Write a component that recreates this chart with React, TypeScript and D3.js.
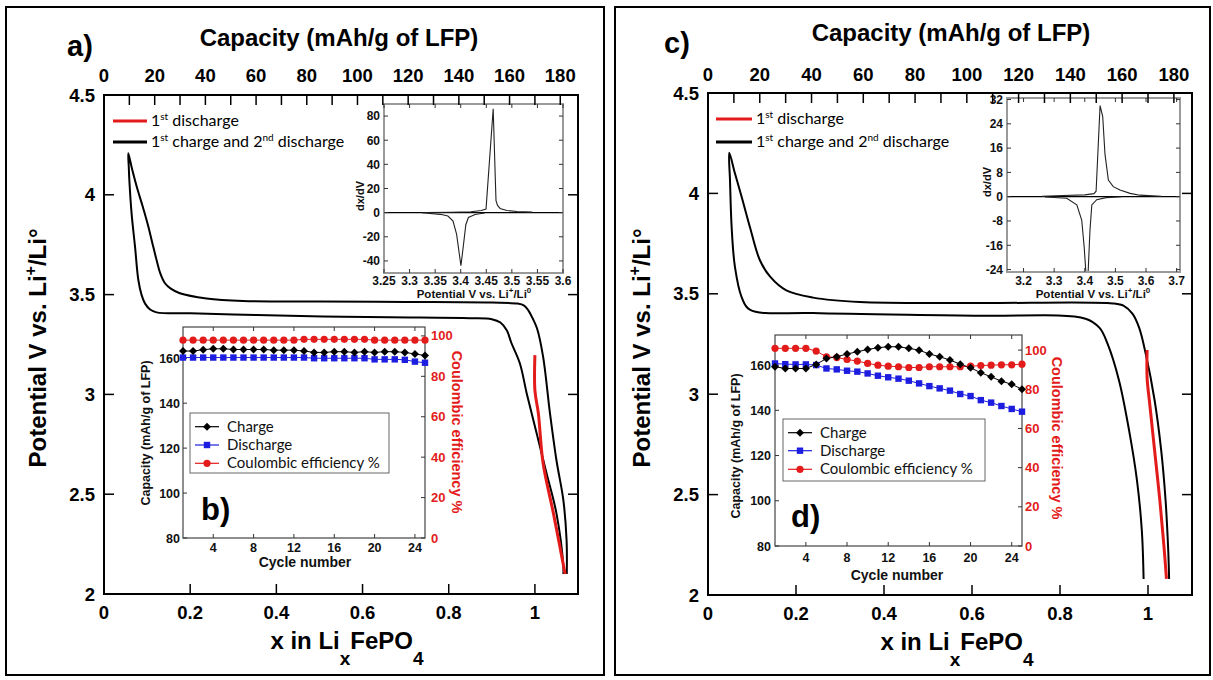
import React from 'react';
import * as d3 from 'd3';

type Pt = [number, number];

const ARIAL = "'Liberation Sans', Arial, Helvetica, sans-serif";
const CAL = "Lato, 'Open Sans', sans-serif";
const RED = '#e31b1b';
const BLUE = '#1d1de0';

// ---------------- main voltage profiles (x in LixFePO4, V) ----------------
const aBlackCurve: Pt[] = [
  [1.074, 2.1], [1.0735, 2.27], [1.066, 2.47], [1.05, 2.67], [1.035, 2.905], [1.019, 3.189],
  [1.005, 3.33], [0.995, 3.38], [0.985, 3.42], [0.975, 3.445], [0.96, 3.455], [0.9, 3.46],
  [0.7, 3.463], [0.5, 3.465], [0.323, 3.468], [0.238, 3.481], [0.176, 3.507], [0.155, 3.53], [0.1415, 3.557],
  [0.13, 3.61], [0.122, 3.673], [0.112, 3.76], [0.103, 3.84], [0.09, 3.94], [0.076, 4.04], [0.065, 4.13], [0.0564, 4.208],
  [0.0575, 4.14], [0.0588, 4.074], [0.064, 3.907], [0.072, 3.74], [0.0797, 3.573], [0.087, 3.5], [0.095, 3.456],
  [0.107, 3.425], [0.122, 3.411],
  [0.2, 3.406], [0.354, 3.398], [0.508, 3.39], [0.664, 3.386], [0.85, 3.382], [0.9, 3.377],
  [0.92, 3.36], [0.935, 3.32], [0.945, 3.26], [0.965, 3.156], [0.981, 3.005], [1.004, 2.805],
  [1.027, 2.605], [1.05, 2.404], [1.066, 2.137], [1.066, 2.1],
];
const aRedCurve: Pt[] = [
  [1.0, 3.197], [1.0, 3.02], [1.008, 2.905], [1.019, 2.655], [1.043, 2.404], [1.058, 2.237], [1.07, 2.1],
];
const cBlackCurve: Pt[] = [
  [1.048, 2.08], [1.046, 2.22], [1.04, 2.47], [1.03, 2.72], [1.015, 2.97], [0.995, 3.2], [0.98, 3.33],
  [0.965, 3.4], [0.945, 3.44], [0.92, 3.452], [0.617, 3.454], [0.345, 3.459], [0.239, 3.481],
  [0.178, 3.517], [0.1417, 3.584], [0.118, 3.667], [0.0952, 3.833], [0.0764, 3.983], [0.0612, 4.1],
  [0.0483, 4.202],
  [0.05, 4.066], [0.0537, 3.833], [0.0612, 3.634], [0.0764, 3.484], [0.095, 3.421], [0.239, 3.404],
  [0.617, 3.391], [0.858, 3.376], [0.89, 3.33], [0.908, 3.252], [0.934, 3.07], [0.957, 2.82],
  [0.975, 2.57], [0.986, 2.32], [0.99, 2.08],
];
const cRedCurve: Pt[] = [
  [0.998, 3.22], [0.998, 3.08], [1.004, 2.95], [1.015, 2.72], [1.027, 2.47], [1.036, 2.25], [1.042, 2.08],
];

const mainXTicks = [0, 0.2, 0.4, 0.6, 0.8, 1];
const mainXLabels = ['0', '0.2', '0.4', '0.6', '0.8', '1'];
const mainYTicks = [2, 2.5, 3, 3.5, 4, 4.5];
const mainYLabels = ['2', '2.5', '3', '3.5', '4', '4.5'];
const capacityTicks = [0, 10, 20, 30, 40, 50, 60, 70, 80, 90, 100, 110, 120, 130, 140, 150, 160, 170, 180];
const capacityLabels = [0, 20, 40, 60, 80, 100, 120, 140, 160, 180];

// ---------------- dx/dV insets ----------------
const aDxCharge: Pt[] = [
  [3.33, 0.1], [3.38, 0.3], [3.42, 0.8], [3.44, 1.8], [3.4495, 3], [3.4635, 86], [3.4675, 30],
  [3.469, 10], [3.472, 6], [3.477, 3.5], [3.49, 1.8], [3.51, 1], [3.54, 0.4],
];
const aDxDischarge: Pt[] = [
  [3.3236, -0.1], [3.36, -1.4], [3.375, -2.8], [3.385, -7], [3.392, -18], [3.4004, -44], [3.405, -28],
  [3.41, -10], [3.415, -4], [3.428, -1.5], [3.447, -0.3],
];
const cDxCharge: Pt[] = [
  [3.26, 0.1], [3.33, 0.4], [3.4, 0.6], [3.43, 1], [3.437, 1.8], [3.45, 30], [3.4586, 26.4],
  [3.466, 14], [3.477, 5.5], [3.493, 3.3], [3.515, 2.2], [3.548, 1.1], [3.58, 0.5], [3.65, 0.1],
];
const cDxDischarge: Pt[] = [
  [3.27, -0.1], [3.341, -0.5], [3.374, -2.7], [3.39, -7.7], [3.398, -16.5], [3.405, -27], [3.41, -27],
  [3.417, -11], [3.423, -2.7], [3.439, -1], [3.47, -0.3], [3.52, 0],
];
const aDxXTicks = [3.25, 3.3, 3.35, 3.4, 3.45, 3.5, 3.55, 3.6];
const aDxXLabels = ['3.25', '3.3', '3.35', '3.4', '3.45', '3.5', '3.55', '3.6'];
const aDxYTicks = [-40, -20, 0, 20, 40, 60, 80];
const cDxXTicks = [3.2, 3.3, 3.4, 3.5, 3.6, 3.7];
const cDxXLabels = ['3.2', '3.3', '3.4', '3.5', '3.6', '3.7'];
const cDxYTicks = [-24, -16, -8, 0, 8, 16, 24, 32];

// ---------------- cycling insets ----------------
const cycles = [1, 2, 3, 4, 5, 6, 7, 8, 9, 10, 11, 12, 13, 14, 15, 16, 17, 18, 19, 20, 21, 22, 23, 24, 25];
const bCharge = [163.2, 163.2, 163.8, 164.2, 164.2, 163.9, 163.9, 163.9, 163.9, 163.6, 163.6, 163.6, 163.2,
  162.6, 162.6, 162.9, 162.9, 162.6, 162.9, 162.6, 162.9, 162.9, 162.6, 161.9, 161.2];
const bDischarge = [160.3, 160.3, 160.3, 160.3, 160.3, 160.3, 160.3, 160.3, 160.3, 160.3, 160.3, 160.3, 160.3,
  160.0, 160.0, 160.0, 160.0, 160.0, 160.0, 159.5, 159.5, 159.5, 159.3, 158.5, 158.0];
const bCE = [97.9, 97.9, 97.9, 97.9, 97.9, 97.9, 97.9, 97.9, 97.9, 97.9, 97.9, 97.9, 98.3, 98.3, 98.3, 98.3,
  98.3, 98.3, 98.3, 97.9, 97.9, 97.9, 97.9, 97.9, 97.9];
const dCharge = [159.3, 158.5, 158.5, 158.5, 160.3, 162.9, 163.7, 164.9, 165.9, 166.9, 167.7, 168.1, 168.1,
  167.4, 166.6, 164.9, 163.7, 162.2, 160.4, 158.8, 156.6, 154.8, 152.9, 151.5, 149.3];
const dDischarge = [160.7, 160.4, 160.3, 160.3, 160.0, 158.5, 158.1, 157.5, 157.1, 156.3, 155.3, 154.6, 154.0,
  153.1, 151.9, 150.7, 149.7, 148.7, 147.2, 146.3, 144.5, 143.4, 141.9, 140.6, 139.4];
const dCE = [100.9, 100.9, 100.9, 100.9, 99.5, 96.6, 96.2, 95.2, 94.4, 93.2, 92.3, 91.8, 91.5, 91.1, 91.1,
  91.5, 91.5, 91.5, 91.5, 91.8, 92.1, 92.3, 92.5, 92.5, 92.8];
const cycleTicks = [4, 8, 12, 16, 20, 24];
const capAxisTicks = [80, 100, 120, 140, 160];
const ceAxisTicks = [0, 20, 40, 60, 80, 100];

// ---------------- layout ----------------
const panelA = {
  fx: 6, fy: 7, fw: 598, fh: 668, x0: 104, x1: 578, yT: 95, yB: 594,
  tag: 'a)', tagX: 67, tagY: 56, titleX: 339, titleY: 46, topLabY: 82, botLabY: 619,
  yLabX: 46, yLabY: 348, xLabX: 347, xLabY: 649, legX0: 113, legX1: 147, legY1: 121, legY2: 142,
};
const panelC = {
  fx: 615, fy: 7, fw: 595, fh: 668, x0: 708, x1: 1192, yT: 93, yB: 595,
  tag: 'c)', tagX: 664, tagY: 53, titleX: 951, titleY: 41, topLabY: 81, botLabY: 620,
  yLabX: 650, yLabY: 348, xLabX: 957, xLabY: 650, legX0: 716, legX1: 752, legY1: 119, legY2: 142,
};
const dxA = { l: 384, r: 563, t: 104, b: 273, xd: [3.25, 3.6], yd: [-50, 90], labR: 380, xLabY: 285,
  titleX: 474, titleY: 298, dxX: 364, dxY: 196 };
const dxC = { l: 1007, r: 1180, t: 98, b: 272, xd: [3.146, 3.711], yd: [-24.8, 32.5], labR: 1003, xLabY: 285,
  titleX: 1093, titleY: 298, dxX: 991, dxY: 182 };
const cyB = { l: 183, r: 425, t: 327, b: 538, yLTop: 173.9, yRTop: 104.4, leftLabR: 180, rightLabL: 431,
  xLabY: 552, cnY: 567, cnX: 305, capLabX: 150, capLabY: 433, ceLabX: 452, ceLabY: 432,
  lg: { x: 190, y: 413, w: 199, h: 60, rows: [426.7, 445, 463.3], lx0: 195, lx1: 219, tx: 227 },
  tag: 'b)', tagX: 201, tagY: 520 };
const cyD = { l: 775, r: 1022, t: 335, b: 546, yLTop: 173.3, yRTop: 107.7, leftLabR: 771, rightLabL: 1025,
  xLabY: 562, cnY: 580, cnX: 897, capLabX: 740, capLabY: 446, ceLabX: 1052, ceLabY: 438,
  lg: { x: 783, y: 419, w: 202, h: 62, rows: [432.7, 450.7, 469.3], lx0: 788, lx1: 812, tx: 820 },
  tag: 'd)', tagX: 791, tagY: 527 };

function MainPanel({ g, black, red, children }: any) {
  const x = d3.scaleLinear().domain([0, 1.1]).range([g.x0, g.x1]);
  const cap = d3.scaleLinear().domain([0, 1.1 * 170]).range([g.x0, g.x1]);
  const y = d3.scaleLinear().domain([2, 4.5]).range([g.yB, g.yT]);
  const line = d3.line<Pt>().x(d => x(d[0])).y(d => y(d[1])).curve(d3.curveCatmullRom.alpha(0.5));
  const TL = 10;
  const tf = { fontFamily: ARIAL, fontWeight: 'bold' as const, fontSize: 18.5, fill: '#000' };
  return (
    <g>
      <rect x={g.fx} y={g.fy} width={g.fw} height={g.fh} fill="#fff" stroke="#000" strokeWidth={2} />
      <text x={g.tagX} y={g.tagY} fontFamily={ARIAL} fontWeight="bold" fontSize={29}>{g.tag}</text>
      <text x={g.titleX} y={g.titleY} textAnchor="middle" fontFamily={ARIAL} fontWeight="bold" fontSize={24}>
        Capacity (mAh/g of LFP)
      </text>
      <path d={line(black) || ''} fill="none" stroke="#000" strokeWidth={2} strokeLinejoin="round" />
      <path d={line(red) || ''} fill="none" stroke={RED} strokeWidth={3} strokeLinejoin="round" />
      {children}
      <rect x={g.x0} y={g.yT} width={g.x1 - g.x0} height={g.yB - g.yT} fill="none" stroke="#000" strokeWidth={2} />
      {capacityTicks.map(t => (
        <line key={'ct' + t} x1={cap(t)} x2={cap(t)} y1={g.yT} y2={g.yT + TL} stroke="#000" strokeWidth={1.5} />
      ))}
      {capacityLabels.map(t => (
        <text key={'cl' + t} x={cap(t)} y={g.topLabY} textAnchor="middle" {...tf}>{t}</text>
      ))}
      {mainXTicks.map((t, i) => (
        <g key={'xt' + t}>
          <line x1={x(t)} x2={x(t)} y1={g.yB} y2={g.yB - TL} stroke="#000" strokeWidth={1.5} />
          <text x={x(t)} y={g.botLabY} textAnchor="middle" {...tf}>{mainXLabels[i]}</text>
        </g>
      ))}
      {mainYTicks.map((t, i) => (
        <g key={'yt' + t}>
          <line x1={g.x0} x2={g.x0 + TL} y1={y(t)} y2={y(t)} stroke="#000" strokeWidth={1.5} />
          <line x1={g.x1} x2={g.x1 - TL} y1={y(t)} y2={y(t)} stroke="#000" strokeWidth={1.5} />
          <text x={g.x0 - 9} y={y(t) + 6.5} textAnchor="end" {...tf}>{mainYLabels[i]}</text>
        </g>
      ))}
      {/* legend */}
      <line x1={g.legX0} x2={g.legX1} y1={g.legY1} y2={g.legY1} stroke={RED} strokeWidth={3} />
      <text x={g.legX1 + 4} y={g.legY1 + 5} fontFamily={CAL} fontSize={16} fill="#000">
        1<tspan dy={-6} fontSize={10}>st</tspan><tspan dy={6}> discharge</tspan>
      </text>
      <line x1={g.legX0} x2={g.legX1} y1={g.legY2} y2={g.legY2} stroke="#000" strokeWidth={3} />
      <text x={g.legX1 + 4} y={g.legY2 + 5} fontFamily={CAL} fontSize={16} fill="#000">
        1<tspan dy={-6} fontSize={10}>st</tspan><tspan dy={6}> charge and 2</tspan>
        <tspan dy={-6} fontSize={10}>nd</tspan><tspan dy={6}> discharge</tspan>
      </text>
      {/* axis titles */}
      <text transform={`translate(${g.yLabX},${g.yLabY}) rotate(-90)`} textAnchor="middle"
        fontFamily={ARIAL} fontWeight="bold" fontSize={24}>
        Potential V vs. Li<tspan dy={-10} fontSize={16}>+</tspan><tspan dy={10}>/Li°</tspan>
      </text>
      <text x={g.xLabX} y={g.xLabY} textAnchor="middle" fontFamily={ARIAL} fontWeight="bold" fontSize={24}>
        x in Li<tspan dy={16} fontSize={19}>x</tspan><tspan dy={-16}>FePO</tspan>
        <tspan dy={16} fontSize={19}>4</tspan>
      </text>
    </g>
  );
}

function DxInset({ g, charge, discharge, xTicks, xLabels, yTicks, id }: any) {
  const x = d3.scaleLinear().domain(g.xd).range([g.l, g.r]);
  const y = d3.scaleLinear().domain(g.yd).range([g.b, g.t]);
  const line = d3.line<Pt>().x(d => x(d[0])).y(d => y(d[1]));
  const tf = { fontFamily: ARIAL, fontWeight: 'bold' as const, fontSize: 12, fill: '#111' };
  return (
    <g>
      <defs>
        <clipPath id={id}><rect x={g.l} y={g.t} width={g.r - g.l} height={g.b - g.t} /></clipPath>
      </defs>
      <rect x={g.l} y={g.t} width={g.r - g.l} height={g.b - g.t} fill="#fff" />
      <g clipPath={`url(#${id})`}>
        <line x1={g.l} x2={g.r} y1={y(0)} y2={y(0)} stroke="#000" strokeWidth={1.2} />
        <path d={line(charge) || ''} fill="none" stroke="#222" strokeWidth={1.1} />
        <path d={line(discharge) || ''} fill="none" stroke="#222" strokeWidth={1.1} />
      </g>
      <rect x={g.l} y={g.t} width={g.r - g.l} height={g.b - g.t} fill="none" stroke="#9a9a9a" strokeWidth={2} />
      {yTicks.map((t: number) => (
        <g key={'dy' + t}>
          <line x1={g.l} x2={g.l + 4} y1={y(t)} y2={y(t)} stroke="#333" strokeWidth={1} />
          <line x1={g.r} x2={g.r - 4} y1={y(t)} y2={y(t)} stroke="#333" strokeWidth={1} />
          <text x={g.labR} y={y(t) + 4.3} textAnchor="end" {...tf}>{t}</text>
        </g>
      ))}
      {xTicks.map((t: number, i: number) => (
        <g key={'dx' + t}>
          <line x1={x(t)} x2={x(t)} y1={g.b} y2={g.b - 4} stroke="#333" strokeWidth={1} />
          <line x1={x(t)} x2={x(t)} y1={g.t} y2={g.t + 4} stroke="#333" strokeWidth={1} />
          <text x={x(t)} y={g.xLabY} textAnchor="middle" {...tf}>{xLabels[i]}</text>
        </g>
      ))}
      <text x={g.titleX} y={g.titleY} textAnchor="middle" fontFamily={ARIAL} fontWeight="bold" fontSize={11.5} fill="#111">
        Potential V vs. Li<tspan dy={-5} fontSize={8}>+</tspan><tspan dy={5}>/Li</tspan>
        <tspan dy={-5} fontSize={8}>0</tspan>
      </text>
      <text transform={`translate(${g.dxX},${g.dxY}) rotate(-90)`} textAnchor="middle" fontFamily={ARIAL}
        fontWeight="bold" fontSize={11} fill="#111">dx/dV</text>
    </g>
  );
}

const diamond = 'M0,-4L4,0L0,4L-4,0Z';

function CycleInset({ g, charge, discharge, ce }: any) {
  const x = d3.scaleLinear().domain([1, 25]).range([g.l, g.r]);
  const yL = d3.scaleLinear().domain([80, g.yLTop]).range([g.b, g.t]);
  const yR = d3.scaleLinear().domain([0, g.yRTop]).range([g.b, g.t]);
  const lineL = d3.line<number>().x((_, i) => x(cycles[i])).y(d => yL(d));
  const lineR = d3.line<number>().x((_, i) => x(cycles[i])).y(d => yR(d));
  const tf = { fontFamily: ARIAL, fontWeight: 'bold' as const, fontSize: 12.5 };
  const lg = g.lg;
  const entries = [
    { label: 'Charge', color: '#000', kind: 'd' },
    { label: 'Discharge', color: BLUE, kind: 's' },
    { label: 'Coulombic efficiency %', color: RED, kind: 'c' },
  ];
  const marker = (kind: string, color: string, cx: number, cy: number, key: string) =>
    kind === 'd' ? <path key={key} d={diamond} transform={`translate(${cx},${cy})`} fill={color} /> :
    kind === 's' ? <rect key={key} x={cx - 3.2} y={cy - 3.2} width={6.4} height={6.4} fill={color} /> :
      <circle key={key} cx={cx} cy={cy} r={3.6} fill={color} />;
  return (
    <g>
      <rect x={g.l} y={g.t} width={g.r - g.l} height={g.b - g.t} fill="#fff" stroke="#444" strokeWidth={1.2} />
      {capAxisTicks.map(t => (
        <g key={'cl' + t}>
          <line x1={g.l} x2={g.l + 4} y1={yL(t)} y2={yL(t)} stroke="#333" />
          <text x={g.leftLabR} y={yL(t) + 4.5} textAnchor="end" {...tf} fill="#111">{t}</text>
        </g>
      ))}
      {ceAxisTicks.map(t => (
        <g key={'cr' + t}>
          <line x1={g.r} x2={g.r - 4} y1={yR(t)} y2={yR(t)} stroke="#333" />
          <text x={g.rightLabL} y={yR(t) + 4.5} textAnchor="start" {...tf} fontSize={13} fill={RED}>{t}</text>
        </g>
      ))}
      {cycleTicks.map(t => (
        <g key={'cx' + t}>
          <line x1={x(t)} x2={x(t)} y1={g.b} y2={g.b - 4} stroke="#333" />
          <line x1={x(t)} x2={x(t)} y1={g.t} y2={g.t + 4} stroke="#333" />
          <text x={x(t)} y={g.xLabY} textAnchor="middle" {...tf} fill="#111">{t}</text>
        </g>
      ))}
      <path d={lineR(ce) || ''} fill="none" stroke={RED} strokeWidth={1} />
      <path d={lineL(discharge) || ''} fill="none" stroke={BLUE} strokeWidth={1} />
      <path d={lineL(charge) || ''} fill="none" stroke="#000" strokeWidth={1} />
      {ce.map((v: number, i: number) => marker('c', RED, x(cycles[i]), yR(v), 'mc' + i))}
      {discharge.map((v: number, i: number) => marker('s', BLUE, x(cycles[i]), yL(v), 'ms' + i))}
      {charge.map((v: number, i: number) => marker('d', '#000', x(cycles[i]), yL(v), 'md' + i))}
      <text x={g.cnX} y={g.cnY} textAnchor="middle" {...tf} fontSize={14} fill="#111">Cycle number</text>
      <text transform={`translate(${g.capLabX},${g.capLabY}) rotate(-90)`} textAnchor="middle" {...tf}
        fontSize={12.5} fill="#111">Capacity (mAh/g of LFP)</text>
      <text transform={`translate(${g.ceLabX},${g.ceLabY}) rotate(90)`} textAnchor="middle" {...tf}
        fontSize={14.5} fill={RED}>Coulombic efficiency %</text>
      <rect x={lg.x} y={lg.y} width={lg.w} height={lg.h} fill="#fff" stroke="#666" strokeWidth={1} />
      {entries.map((e, i) => (
        <g key={'lg' + i}>
          <line x1={lg.lx0} x2={lg.lx1} y1={lg.rows[i]} y2={lg.rows[i]} stroke={e.color} strokeWidth={1.2} />
          {marker(e.kind, e.color, (lg.lx0 + lg.lx1) / 2, lg.rows[i], 'lm' + i)}
          <text x={lg.tx} y={lg.rows[i] + 5} fontFamily={CAL} fontSize={15} fill="#111">{e.label}</text>
        </g>
      ))}
      <text x={g.tagX} y={g.tagY} fontFamily={ARIAL} fontWeight="bold" fontSize={31} fill="#000">{g.tag}</text>
    </g>
  );
}

export default function App() {
  return (
    <svg width={1213} height={680} viewBox="0 0 1213 680"
      style={{ position: 'absolute', left: 0, top: 0, background: '#fff' }}>
      <rect x={0} y={0} width={1213} height={680} fill="#fff" />
      <MainPanel g={panelA} black={aBlackCurve} red={aRedCurve}>
        <DxInset id="clipA" g={dxA} charge={aDxCharge} discharge={aDxDischarge} xTicks={aDxXTicks}
          xLabels={aDxXLabels} yTicks={aDxYTicks} />
        <CycleInset g={cyB} charge={bCharge} discharge={bDischarge} ce={bCE} />
      </MainPanel>
      <MainPanel g={panelC} black={cBlackCurve} red={cRedCurve}>
        <DxInset id="clipC" g={dxC} charge={cDxCharge} discharge={cDxDischarge} xTicks={cDxXTicks}
          xLabels={cDxXLabels} yTicks={cDxYTicks} />
        <CycleInset g={cyD} charge={dCharge} discharge={dDischarge} ce={dCE} />
      </MainPanel>
    </svg>
  );
}
